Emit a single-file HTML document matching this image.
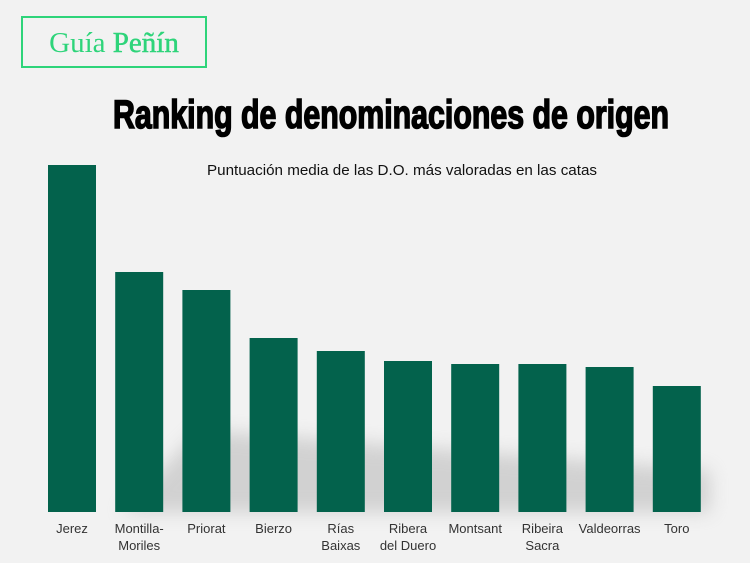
<!DOCTYPE html>
<html><head><meta charset="utf-8"><style>
body{margin:0;width:750px;height:563px;background:#f2f2f2;overflow:hidden;font-family:"Liberation Sans",sans-serif}
svg{display:block}
</style></head><body>
<svg id="chart" width="750" height="563" viewBox="0 0 750 563">
<defs><filter id="blur" x="-20%" y="-50%" width="140%" height="200%"><feGaussianBlur stdDeviation="9"/></filter></defs>
<rect x="22" y="17" width="184" height="50" fill="none" stroke="#2ed47a" stroke-width="2"/>
<text x="114" y="52" text-anchor="middle" font-family="Liberation Serif, serif" font-size="29" fill="#2ed47a">Guía <tspan font-weight="normal" stroke="#2ed47a" stroke-width="0.5">Peñín</tspan></text>
<text x="391" y="128" text-anchor="middle" font-family="Liberation Sans Narrow, Liberation Sans, sans-serif" font-weight="bold" font-size="40" fill="#000" stroke="#000" stroke-width="1.6" textLength="556" lengthAdjust="spacingAndGlyphs">Ranking de denominaciones de origen</text>
<text x="402" y="175" text-anchor="middle" font-size="14.5" fill="#111" textLength="390" lengthAdjust="spacingAndGlyphs">Puntuación media de las D.O. más valoradas en las catas</text>
<path d="M120 512 L200 430 L710 470 L710 512 Z" fill="#aaa" opacity="0.45" filter="url(#blur)"/>
<g id="bars"></g><g id="labels"></g>
</svg>
<script>
const categories=["Jerez","Montilla-\nMoriles","Priorat","Bierzo","Rías\nBaixas","Ribera\ndel Duero","Montsant","Ribeira\nSacra","Valdeorras","Toro"];
const values=[347,240,222,174,161,151,148,148,145,126];
const baseY=512, x0=48, step=67.2, bw=48;
function xPos(i){return x0+i*step;}
function yScale(v){return baseY-v;}
const NS="http://www.w3.org/2000/svg";
const gb=document.getElementById('bars'), gl=document.getElementById('labels');
values.forEach((v,i)=>{
 const r=document.createElementNS(NS,'rect');
 r.setAttribute('x',xPos(i));r.setAttribute('y',yScale(v));r.setAttribute('width',bw);r.setAttribute('height',baseY-yScale(v));r.setAttribute('fill','#03624c');
 
 
 gb.appendChild(r);
 const t=document.createElementNS(NS,'text');
 t.setAttribute('x',xPos(i)+bw/2);t.setAttribute('y',533);t.setAttribute('text-anchor','middle');t.setAttribute('font-size','13');t.setAttribute('fill','#333');
 
 
 categories[i].split("\n").forEach((ln,k)=>{const s=document.createElementNS(NS,'tspan');s.setAttribute('x',xPos(i)+bw/2);s.setAttribute('dy',k?17:0);s.textContent=ln;t.appendChild(s);});
 gl.appendChild(t);
});
</script>
</body></html>
